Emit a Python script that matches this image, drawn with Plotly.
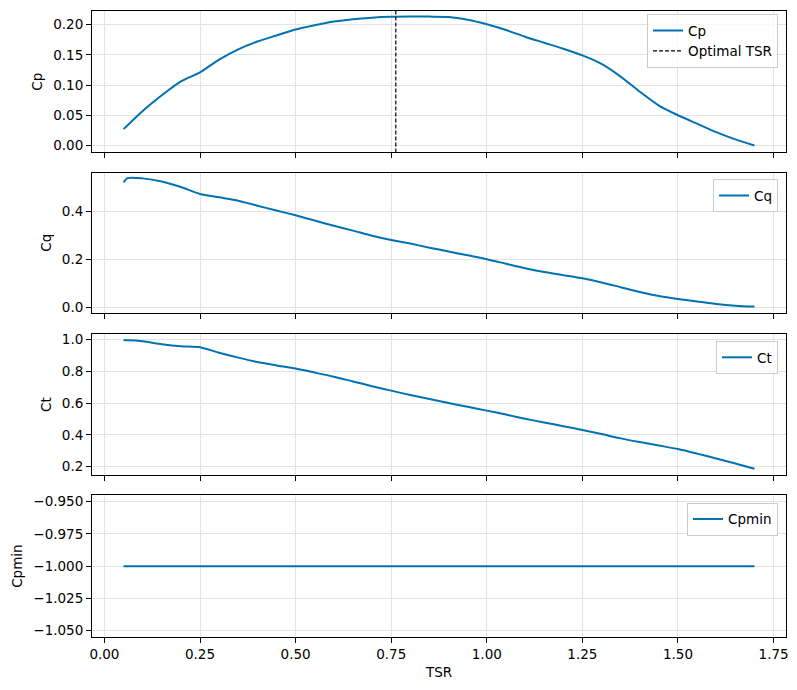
import plotly.graph_objects as go
from plotly.subplots import make_subplots

# ---------------- data ----------------
tsr = [0.05, 0.06, 0.10, 0.15, 0.20, 0.25, 0.30, 0.35, 0.40, 0.45, 0.50,
       0.55, 0.60, 0.65, 0.70, 0.75, 0.80, 0.85, 0.90, 0.95, 1.00,
       1.05, 1.10, 1.15, 1.20, 1.25, 1.30, 1.35, 1.40, 1.45, 1.50,
       1.55, 1.60, 1.65, 1.70]

cp = [0.027, 0.033, 0.057, 0.083, 0.106, 0.121, 0.142, 0.159, 0.172, 0.182, 0.192,
      0.199, 0.205, 0.209, 0.2115, 0.2128, 0.2132, 0.2132, 0.2127, 0.208, 0.2005,
      0.191, 0.180, 0.170, 0.160, 0.149, 0.135, 0.114, 0.089, 0.066, 0.050,
      0.036, 0.022, 0.010, 0.000]

cq = [0.521, 0.539, 0.538, 0.525, 0.502, 0.473, 0.459, 0.445, 0.424, 0.404, 0.384,
      0.362, 0.340, 0.320, 0.299, 0.281, 0.266, 0.249, 0.233, 0.217, 0.201,
      0.182, 0.163, 0.147, 0.134, 0.121, 0.104, 0.084, 0.064, 0.047, 0.035,
      0.024, 0.014, 0.007, 0.003]

ct = [0.996, 0.996, 0.990, 0.972, 0.959, 0.952, 0.918, 0.887, 0.859, 0.838, 0.818,
      0.793, 0.767, 0.737, 0.707, 0.679, 0.651, 0.626, 0.601, 0.577, 0.553,
      0.528, 0.502, 0.478, 0.455, 0.431, 0.405, 0.378, 0.355, 0.333, 0.311,
      0.282, 0.251, 0.220, 0.187]

cpmin = [-1.0, -1.0, -1.0, -1.0, -1.0, -1.0, -1.0, -1.0, -1.0, -1.0, -1.0,
         -1.0, -1.0, -1.0, -1.0, -1.0, -1.0, -1.0, -1.0, -1.0, -1.0,
         -1.0, -1.0, -1.0, -1.0, -1.0, -1.0, -1.0, -1.0, -1.0, -1.0,
         -1.0, -1.0, -1.0, -1.0]

optimal_tsr = 0.762

x_tick_vals = [0.0, 0.25, 0.5, 0.75, 1.0, 1.25, 1.5, 1.75]
x_tick_text = ["0.00", "0.25", "0.50", "0.75", "1.00", "1.25", "1.50", "1.75"]
cp_tick_vals = [0.0, 0.05, 0.10, 0.15, 0.20]
cp_tick_text = ["0.00", "0.05", "0.10", "0.15", "0.20"]
cq_tick_vals = [0.0, 0.2, 0.4]
cq_tick_text = ["0.0", "0.2", "0.4"]
ct_tick_vals = [0.2, 0.4, 0.6, 0.8, 1.0]
ct_tick_text = ["0.2", "0.4", "0.6", "0.8", "1.0"]
cpmin_tick_vals = [-0.95, -0.975, -1.0, -1.025, -1.05]
cpmin_tick_text = ["\u22120.950", "\u22120.975", "\u22121.000", "\u22121.025", "\u22121.050"]

# ---------------- styling ----------------
BLUE = "#0072B2"
FONT = "DejaVu Sans"
FS = 13.5

x_range = [-0.0325, 1.7825]
cp_range = [-0.0116, 0.2225]
cq_range = [-0.0225, 0.5625]
ct_range = [0.148, 1.034]
cpmin_range = [-1.055, -0.945]

fig = make_subplots(rows=4, cols=1, shared_xaxes=True)

curve_line = dict(color=BLUE, width=2, shape="spline", smoothing=0.7)

fig.add_trace(go.Scatter(x=tsr, y=cp, mode="lines", name="Cp",
                         line=curve_line, legend="legend"),
              row=1, col=1)
fig.add_trace(go.Scatter(x=[optimal_tsr, optimal_tsr], y=cp_range, mode="lines",
                         name="Optimal TSR",
                         line=dict(color="black", width=1.2, dash="4px,2px"),
                         legend="legend"),
              row=1, col=1)
fig.add_trace(go.Scatter(x=tsr, y=cq, mode="lines", name="Cq",
                         line=curve_line, legend="legend2"),
              row=2, col=1)
fig.add_trace(go.Scatter(x=tsr, y=ct, mode="lines", name="Ct",
                         line=curve_line, legend="legend3"),
              row=3, col=1)
fig.add_trace(go.Scatter(x=tsr, y=cpmin, mode="lines", name="Cpmin",
                         line=dict(color=BLUE, width=2), legend="legend4"),
              row=4, col=1)

common_axis = dict(showline=True, linecolor="black", linewidth=1, mirror=True,
                   ticks="outside", ticklen=5, tickwidth=1, tickcolor="black",
                   showgrid=True, gridcolor="#e3e3e3", gridwidth=1,
                   zeroline=False, automargin=False,
                   tickfont=dict(family=FONT, size=FS, color="black"))

domains = [[0.774, 1.0], [0.518, 0.742], [0.259, 0.4835], [0.0, 0.2264]]
y_settings = [
    ("Cp", cp_range, cp_tick_vals, cp_tick_text),
    ("Cq", cq_range, cq_tick_vals, cq_tick_text),
    ("Ct", ct_range, ct_tick_vals, ct_tick_text),
    ("Cpmin", cpmin_range, cpmin_tick_vals, cpmin_tick_text),
]

for i in range(4):
    title, rng, tv, tt = y_settings[i]
    fig.update_yaxes(common_axis, row=i + 1, col=1, domain=domains[i], range=rng,
                     tickmode="array", tickvals=tv, ticktext=tt,
                     title=dict(text=title, font=dict(family=FONT, size=FS, color="black"),
                                standoff=7))
    fig.update_xaxes(common_axis, row=i + 1, col=1, range=x_range,
                     tickmode="array", tickvals=x_tick_vals, ticktext=x_tick_text,
                     showticklabels=(i == 3))

fig.update_xaxes(title=dict(text="TSR", font=dict(family=FONT, size=FS, color="black"),
                            standoff=6), row=4, col=1)

legend_common = dict(xanchor="right", yanchor="top", x=0.9885,
                     bgcolor="rgba(255,255,255,0.8)", bordercolor="#cccccc", borderwidth=1,
                     font=dict(family=FONT, size=FS, color="black"), itemwidth=30,
                     tracegroupgap=0)

fig.update_layout(
    width=797, height=690,
    margin=dict(l=92, r=11, t=11, b=53),
    paper_bgcolor="white", plot_bgcolor="white",
    font=dict(family=FONT, size=FS, color="black"),
    legend=dict(legend_common, y=0.995),
    legend2=dict(legend_common, y=0.7311),
    legend3=dict(legend_common, y=0.4728),
    legend4=dict(legend_common, y=0.2145),
    showlegend=True,
)

fig.write_html("out.html",
               config={"displayModeBar": False},
               post_script="document.body.style.margin='0';document.body.style.padding='0';")
